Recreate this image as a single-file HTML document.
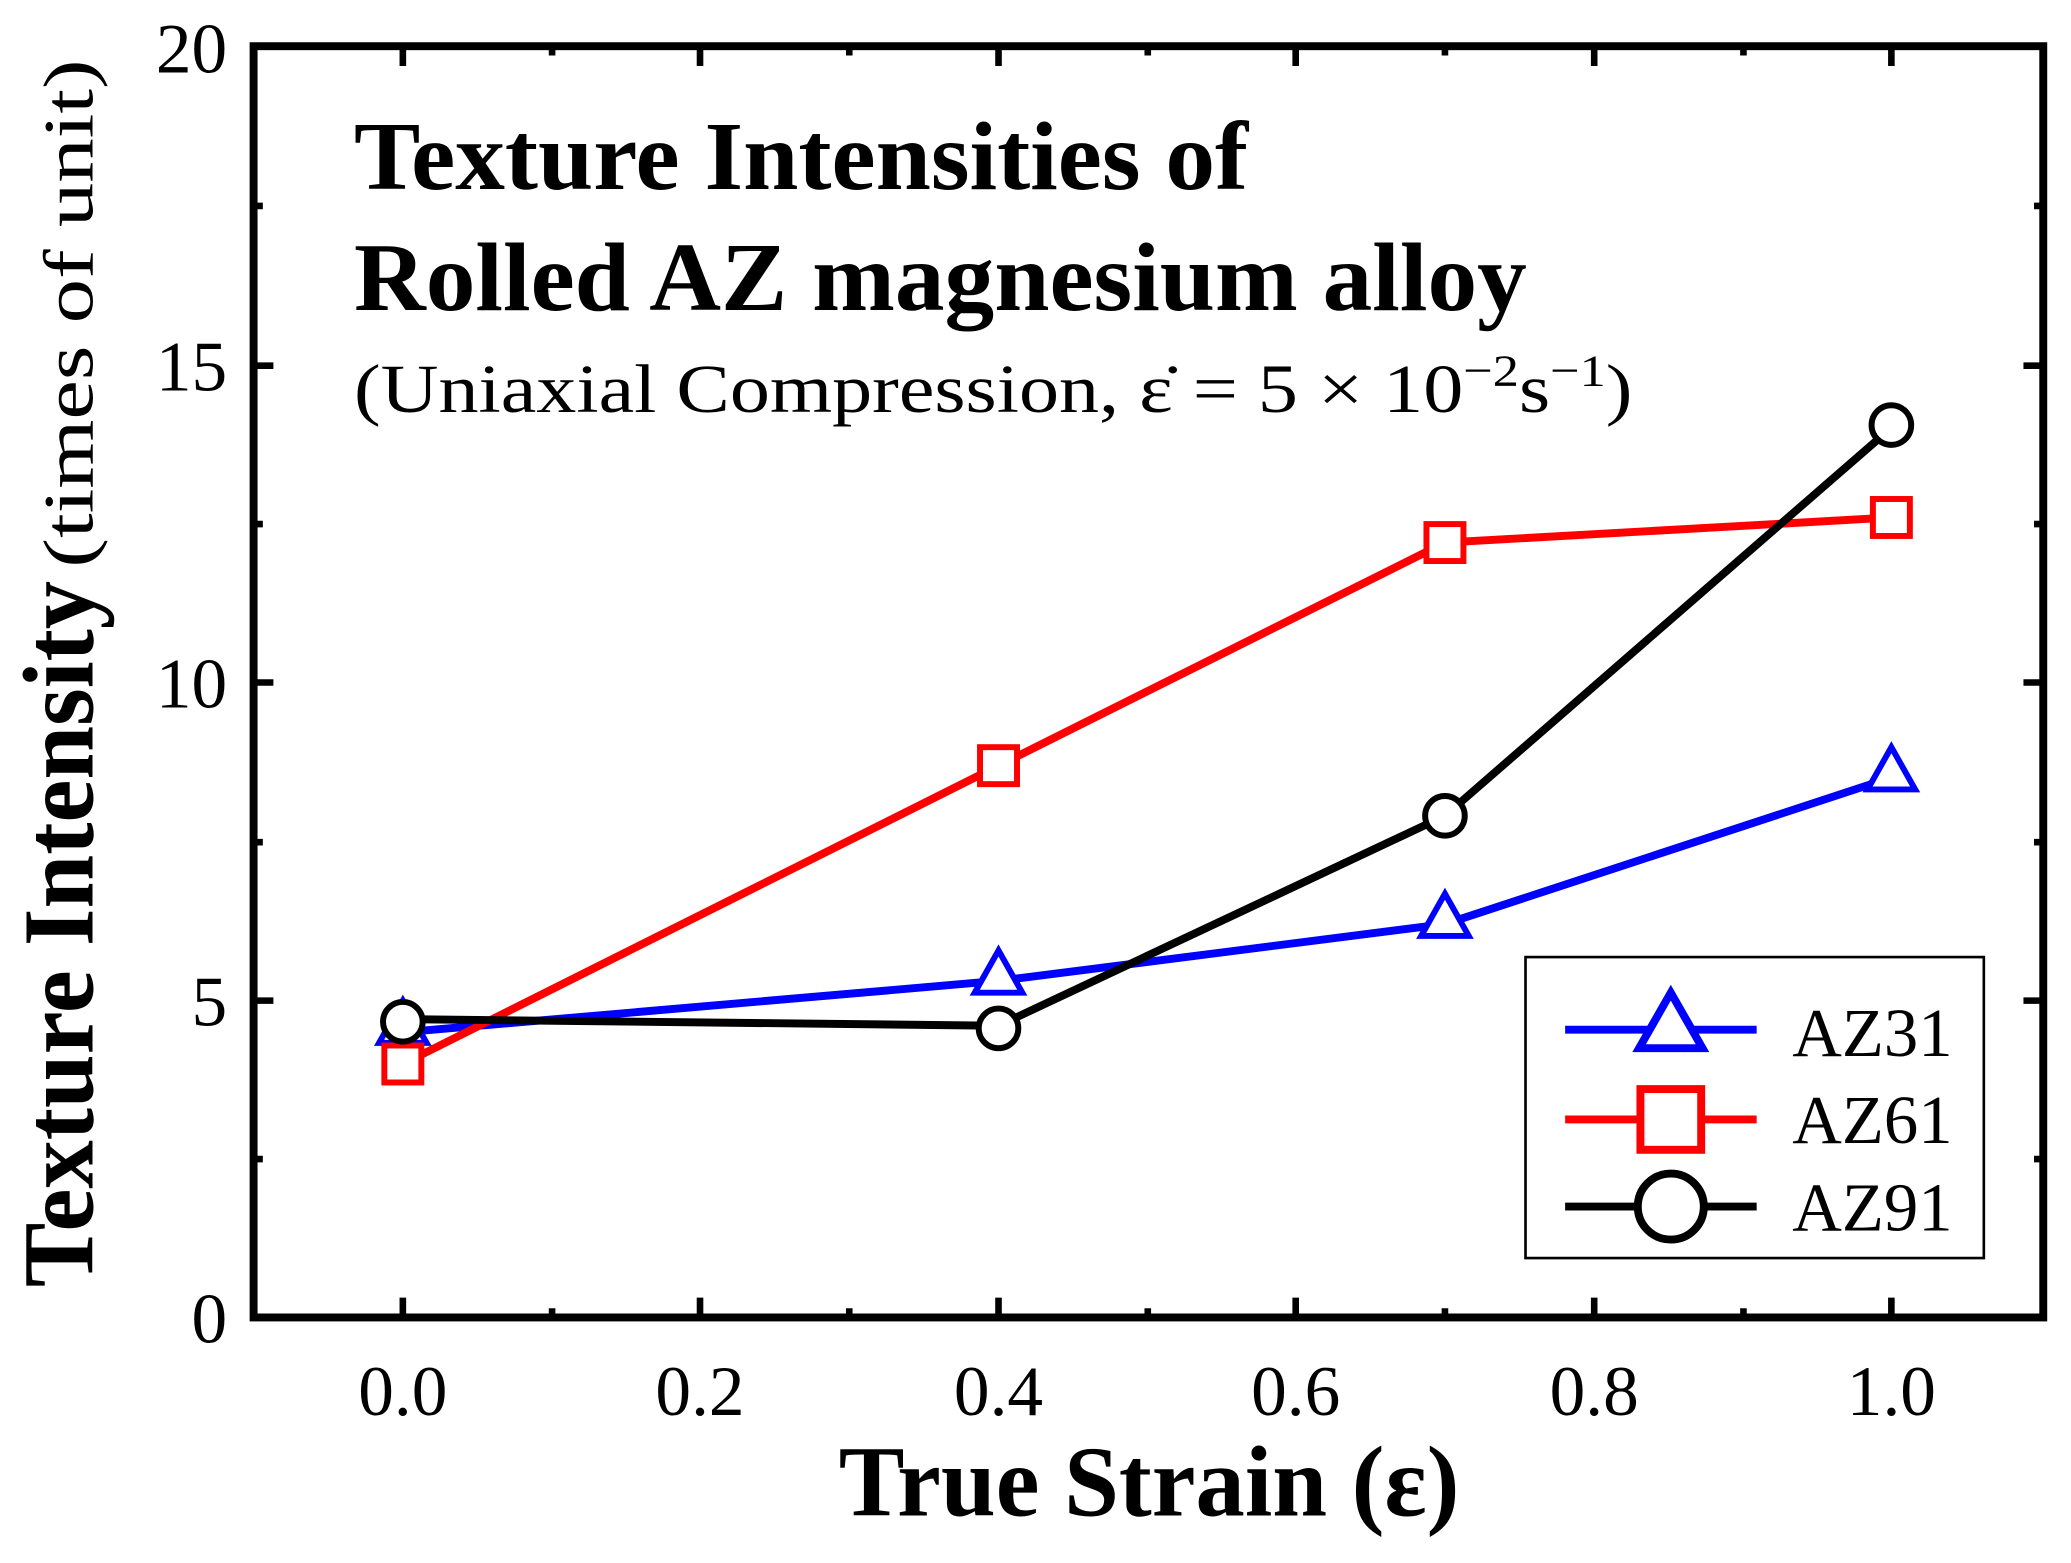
<!DOCTYPE html>
<html><head><meta charset="utf-8"><style>html,body{margin:0;padding:0;background:#fff}svg{display:block}</style></head><body>
<svg width="2071" height="1563" viewBox="0 0 1568 1184" preserveAspectRatio="none" xmlns="http://www.w3.org/2000/svg" font-family="'Liberation Serif', serif">
<rect width="1568" height="1184" fill="#fff"/>
<g stroke="#000" stroke-width="5">
<path d="M192 758h15M192 517h15M192 277h15M1547 758h-15M1547 517h-15M1547 277h-15"/>
<path d="M192 878h7M192 638h7M192 397h7M192 156h7M1547 878h-7M1547 638h-7M1547 397h-7M1547 156h-7"/>
<path d="M305 998v-15M530 998v-15M756 998v-15M981 998v-15M1207 998v-15M1432 998v-15M305 35v15M530 35v15M756 35v15M981 35v15M1207 35v15M1432 35v15"/>
<path d="M418 998v-7M643 998v-7M869 998v-7M1094 998v-7M1320 998v-7M418 35v7M643 35v7M869 35v7M1094 35v7M1320 35v7"/>
</g>
<rect x="192" y="35" width="1355" height="963" fill="none" stroke="#000" stroke-width="6"/>
<g font-size="54" fill="#000">
<text x="172" y="1017" text-anchor="end">0</text>
<text x="172" y="777" text-anchor="end">5</text>
<text x="172" y="536" text-anchor="end">10</text>
<text x="172" y="296" text-anchor="end">15</text>
<text x="172" y="55" text-anchor="end">20</text>
<text x="305" y="1072" text-anchor="middle">0.0</text>
<text x="530" y="1072" text-anchor="middle">0.2</text>
<text x="756" y="1072" text-anchor="middle">0.4</text>
<text x="981" y="1072" text-anchor="middle">0.6</text>
<text x="1207" y="1072" text-anchor="middle">0.8</text>
<text x="1432" y="1072" text-anchor="middle">1.0</text>
</g>
<text x="870" y="1148" text-anchor="middle" font-size="76" font-weight="bold" textLength="470" lengthAdjust="spacingAndGlyphs">True Strain (ε)</text>
<text transform="translate(70,975) rotate(-90)" font-size="76" font-weight="bold" textLength="535" lengthAdjust="spacingAndGlyphs">Texture Intensity</text>
<text transform="translate(70,430) rotate(-90)" font-size="54" textLength="385" lengthAdjust="spacingAndGlyphs">(times of unit)</text>
<text x="268" y="143" font-size="74" font-weight="bold" textLength="677" lengthAdjust="spacingAndGlyphs">Texture Intensities of</text>
<text x="268" y="235" font-size="74" font-weight="bold" textLength="888" lengthAdjust="spacingAndGlyphs">Rolled AZ magnesium alloy</text>
<text x="268" y="312" font-size="52" textLength="968" lengthAdjust="spacingAndGlyphs">(Uniaxial Compression, ε̇ = 5 × 10<tspan font-size="34" dy="-20">−2</tspan><tspan dy="20">s</tspan><tspan font-size="34" dy="-20">−1</tspan><tspan dy="20">)</tspan></text>
<g fill="none" stroke-width="6">
<polyline stroke="#00f" points="305,782 756,743 1094,700 1432,589"/>
<polyline stroke="#f00" points="305,806 756,580 1094,411 1432,392"/>
<polyline stroke="#000" points="305,772 756,777 1094,618 1432,324"/>
</g>
<g fill="#fff" stroke-width="4.5">
<path stroke="#00f" d="M305 758l18 32h-36z M756 720l18 32h-36z M1094 677l18 32h-36z M1432 566l18 32h-36z"/>
<g stroke="#f00"><rect x="291" y="792" width="28" height="28"/><rect x="742" y="566" width="28" height="28"/><rect x="1080" y="397" width="28" height="28"/><rect x="1418" y="378" width="28" height="28"/></g>
<g stroke="#000"><circle cx="305" cy="774" r="15"/><circle cx="756" cy="779" r="15"/><circle cx="1094" cy="618" r="15"/><circle cx="1432" cy="322" r="15"/></g>
</g>
<rect x="1155" y="725" width="347" height="228" fill="#fff" stroke="#000" stroke-width="2"/>
<g stroke-width="6" fill="#fff">
<path stroke="#00f" d="M1185 780h145"/><path stroke="#00f" d="M1265 752l24 42h-48z"/>
<path stroke="#f00" d="M1185 848h145"/><rect stroke="#f00" x="1242" y="825" width="46" height="46"/>
<path stroke="#000" d="M1185 914h145"/><circle stroke="#000" cx="1265" cy="914" r="25"/>
</g>
<g font-size="52"><text x="1357" y="800">AZ31</text><text x="1357" y="866">AZ61</text><text x="1357" y="932">AZ91</text></g>
</svg>
</body></html>
